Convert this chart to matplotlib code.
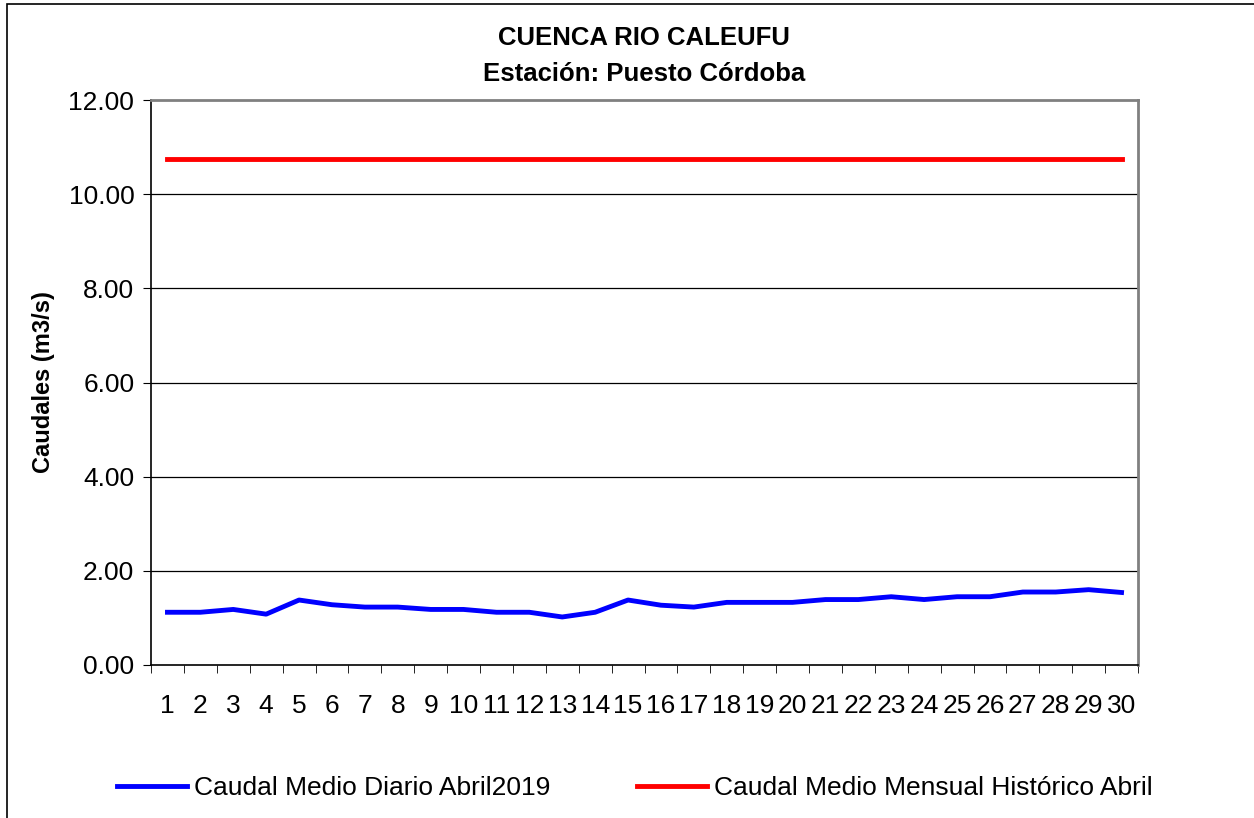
import numpy as np
import matplotlib.pyplot as plt
from matplotlib.patches import Rectangle

plt.rcParams['font.family'] = ['Liberation Sans', 'DejaVu Sans']

dias = list(range(1, 31))
caudal_diario = [1.12, 1.12, 1.18, 1.08, 1.38, 1.28, 1.23, 1.23, 1.18, 1.18,
                 1.12, 1.12, 1.02, 1.12, 1.38, 1.27, 1.23, 1.33, 1.33, 1.33,
                 1.39, 1.39, 1.45, 1.39, 1.45, 1.45, 1.55, 1.55, 1.60, 1.54]
caudal_historico = [10.75] * 30
y_ticks = [0, 2, 4, 6, 8, 10, 12]

fig = plt.figure(figsize=(12.54, 8.18), dpi=100)
ax = fig.add_axes([151/1254, 1 - 665/818, (1138-151)/1254, (665-100)/818])

# outer frame of the chart object
fig.patches.append(Rectangle((7/1254, -0.05), 1.1, 1 - 4/818 + 0.05,
                             transform=fig.transFigure, fill=False,
                             edgecolor='black', linewidth=1.2))

ax.plot(dias, caudal_diario, color='#0000ff', linewidth=3.5,
        label='Caudal Medio Diario Abril2019')
ax.plot(dias, caudal_historico, color='#ff0000', linewidth=3.5,
        label='Caudal Medio Mensual Histórico Abril')

ax.set_xlim(0.5, 30.5)
ax.set_ylim(0, 12)
ax.set_yticks(y_ticks)
ax.set_yticklabels(['%.2f' % v for v in y_ticks], fontsize=19)
ax.set_xticks(dias)
ax.set_xticklabels([str(d) for d in dias], fontsize=19)
ax.set_xticks(np.arange(0.5, 31, 1), minor=True)
ax.tick_params(axis='x', which='major', length=0, pad=21)
ax.tick_params(axis='x', which='minor', length=6, direction='out', color='black')
ax.tick_params(axis='y', length=6, direction='out', pad=6)

for v in y_ticks[1:-1]:
    ax.axhline(v, color='black', linewidth=0.9, zorder=0)

ax.spines['top'].set_color('#808080')
ax.spines['right'].set_color('#808080')
ax.spines['top'].set_linewidth(2)
ax.spines['right'].set_linewidth(2)
ax.spines['left'].set_linewidth(1.2)
ax.spines['bottom'].set_linewidth(1.2)

ax.set_ylabel('Caudales (m3/s)', fontsize=17, fontweight='bold', labelpad=10)

fig.text(644/1254, 1 - 38/818, 'CUENCA RIO CALEUFU', ha='center', va='center',
         fontsize=18.5, fontweight='bold')
fig.text(644/1254, 1 - 74/818, 'Estación: Puesto Córdoba', ha='center', va='center',
         fontsize=18.5, fontweight='bold')

fig.legend(loc='center', bbox_to_anchor=(635/1254, 1 - 788/818), ncol=2,
           frameon=False, fontsize=19, handlelength=2.65, handletextpad=0.25,
           columnspacing=3.3, borderpad=0, borderaxespad=0)

fig.savefig('out.png', dpi=100)
